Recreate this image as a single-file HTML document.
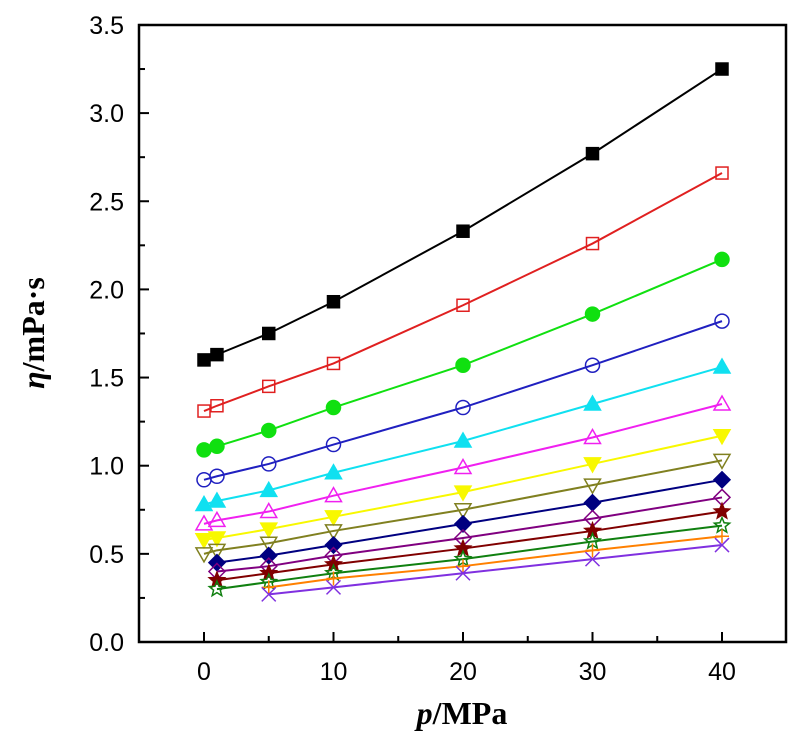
<!DOCTYPE html>
<html><head><meta charset="utf-8"><style>
body{margin:0;background:#fff;width:800px;height:747px;overflow:hidden}
svg text{font-family:"Liberation Sans",sans-serif}
</style></head><body>
<svg id="chart" width="800" height="747" xmlns="http://www.w3.org/2000/svg">
<rect x="139" y="25" width="647" height="617" fill="none" stroke="#000" stroke-width="2.5"/>
<g id="axes"></g><g id="series"></g>
<text transform="translate(44,333) rotate(-90)" text-anchor="middle" style="font-family:'Liberation Serif',serif;font-weight:bold;font-size:32px"><tspan font-style="italic">η</tspan>/mPa·s</text>
<text x="462" y="724" text-anchor="middle" style="font-family:'Liberation Serif',serif;font-weight:bold;font-size:32px"><tspan font-style="italic">p</tspan>/MPa</text>
</svg>
<script>
const pressures=[0,1,5,10,20,30,40];
const xTicks=[0,10,20,30,40];
const yTicks=[0,0.5,1,1.5,2,2.5,3,3.5];
const s1=[1.60,1.63,1.75,1.93,2.33,2.77,3.25];
const s2=[1.31,1.34,1.45,1.58,1.91,2.26,2.66];
const s3=[1.09,1.11,1.20,1.33,1.57,1.86,2.17];
const s4=[0.92,0.94,1.01,1.12,1.33,1.57,1.82];
const s5=[0.78,0.80,0.86,0.96,1.14,1.35,1.56];
const s6=[0.67,0.69,0.74,0.83,0.99,1.16,1.35];
const s7=[0.58,0.59,0.64,0.71,0.85,1.01,1.17];
const s8=[0.50,0.52,0.56,0.63,0.75,0.89,1.03];
const s9=[null,0.45,0.49,0.55,0.67,0.79,0.92];
const s10=[null,0.40,0.43,0.49,0.59,0.70,0.82];
const s11=[null,0.35,0.39,0.44,0.53,0.63,0.74];
const s12=[null,0.30,0.34,0.39,0.47,0.57,0.66];
const s13=[null,null,0.31,0.36,0.43,0.52,0.60];
const s14=[null,null,0.27,0.31,0.39,0.47,0.55];
const seriesList=[
[s1,'#000','square',true],[s2,'#e02020','square',false],[s3,'#10e010','circle',true],[s4,'#2020c0','circle',false],
[s5,'#10e0f0','tri',true],[s6,'#f020f0','tri',false],[s7,'#f8f800','dtri',true],[s8,'#808020','dtri',false],
[s9,'#000080','diamond',true],[s10,'#800080','diamond',false],[s11,'#800000','star',true],[s12,'#108010','star',false],
[s13,'#ff8000','plus',false],[s14,'#8030e0','x',false]];
const X=p=>204+p*12.95, Y=v=>642-v*176.3;
const NS='http://www.w3.org/2000/svg';
function mk(t,a,parent){const e=document.createElementNS(NS,t);for(const k in a)e.setAttribute(k,a[k]);parent.appendChild(e);return e;}
const ax=document.getElementById('axes');
xTicks.forEach(t=>{
 const l=mk('line',{x1:X(t),x2:X(t),y1:642,y2:632,stroke:'#000','stroke-width':2},ax);
 
 const tx=mk('text',{x:X(t),y:680,'text-anchor':'middle','font-size':25},ax);tx.textContent=t;
 
});
[5,15,25,35].forEach(t=>{mk('line',{x1:X(t),x2:X(t),y1:642,y2:636,stroke:'#000','stroke-width':2},ax);});
yTicks.forEach(t=>{
 const l=mk('line',{x1:139,x2:149,y1:Y(t),y2:Y(t),stroke:'#000','stroke-width':2},ax);
 
 const tx=mk('text',{x:124,y:Y(t)+9,'text-anchor':'end','font-size':25},ax);tx.textContent=t.toFixed(1);
 
 if(t<3.5)mk('line',{x1:139,x2:145,y1:Y(t+0.25),y2:Y(t+0.25),stroke:'#000','stroke-width':2},ax);
});
const sg=document.getElementById('series');
function marker(g,type,fill,c,x,y){
 const f=fill?c:'none',o={fill:f,stroke:c,'stroke-width':1.5};
 let e;
 if(type==='square')e=mk('rect',Object.assign({x:x-6,y:y-6,width:12,height:12},o),g);
 else if(type==='circle')e=mk('circle',Object.assign({cx:x,cy:y,r:7},o),g);
 else if(type==='tri')e=mk('polygon',Object.assign({points:`${x},${y-8} ${x-8},${y+6} ${x+8},${y+6}`},o),g);
 else if(type==='dtri')e=mk('polygon',Object.assign({points:`${x},${y+8} ${x-8},${y-6} ${x+8},${y-6}`},o),g);
 else if(type==='diamond')e=mk('polygon',Object.assign({points:`${x},${y-8} ${x+8},${y} ${x},${y+8} ${x-8},${y}`},o),g);
 else if(type==='star'){let p=[];for(let i=0;i<10;i++){const r=i%2?3.5:8,a=-Math.PI/2+i*Math.PI/5;p.push((x+r*Math.cos(a)).toFixed(1)+','+(y+r*Math.sin(a)).toFixed(1));}
  e=mk('polygon',Object.assign({points:p.join(' ')},o),g);}
 else if(type==='plus')e=mk('path',{d:`M${x-7},${y}H${x+7}M${x},${y-7}V${y+7}`,stroke:c,'stroke-width':1.5},g);
 else e=mk('path',{d:`M${x-7},${y-7}L${x+7},${y+7}M${x-7},${y+7}L${x+7},${y-7}`,stroke:c,'stroke-width':1.5},g);
 
 
}
seriesList.forEach((s,i)=>{
 const [vals,c,type,fill]=s;
 const g=mk('g',{},sg);
 
 
 const pts=[];vals.forEach((v,j)=>{if(v!==null)pts.push([X(pressures[j]),Y(v)]);});
 const line=mk('polyline',{points:pts.map(p=>p.join(',')).join(' '),fill:'none',stroke:c,'stroke-width':2},g);
 
 
 pts.forEach(p=>marker(g,type,fill,c,p[0],p[1]));
});
</script>
</body></html>
